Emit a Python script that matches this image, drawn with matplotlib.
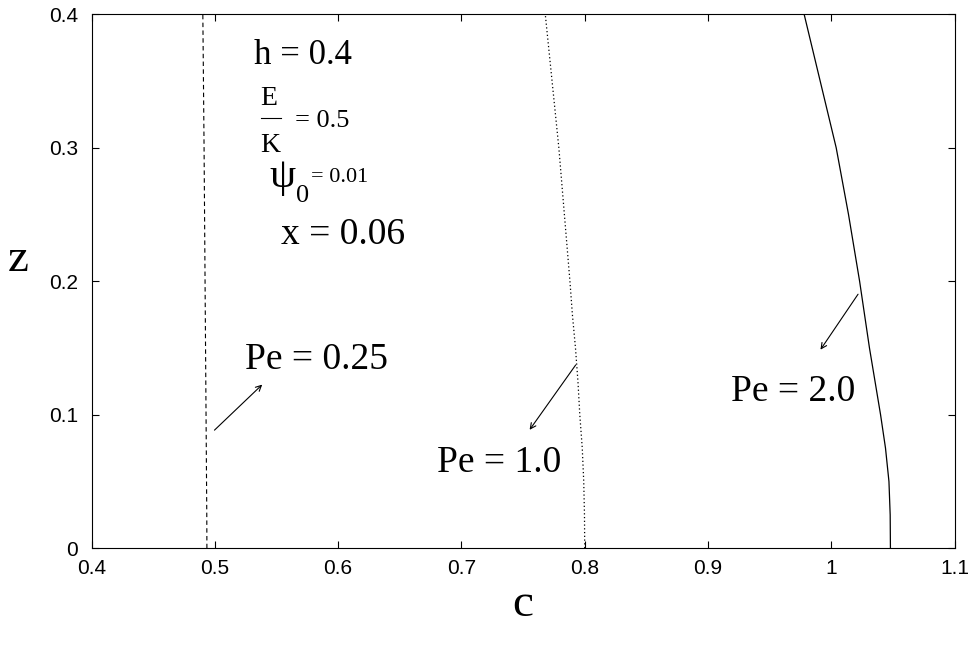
import matplotlib
matplotlib.use("Agg")
import matplotlib.pyplot as plt

z_pts = [0.0, 0.025, 0.05, 0.075, 0.1, 0.125, 0.15, 0.175, 0.2, 0.25, 0.3, 0.35, 0.4]
c_pe025 = [0.4935, 0.4934, 0.4932, 0.493, 0.4928, 0.4926, 0.4924, 0.4922, 0.492,
           0.4916, 0.4912, 0.4907, 0.4902]
c_pe10 = [0.800, 0.7998, 0.7992, 0.798, 0.796, 0.7945, 0.7925, 0.790, 0.788,
          0.7835, 0.779, 0.7735, 0.768]
c_pe20 = [1.048, 1.0478, 1.0468, 1.044, 1.040, 1.0355, 1.031, 1.027, 1.023,
          1.014, 1.004, 0.991, 0.978]

fig = plt.figure(figsize=(9.75, 6.48), dpi=100)
ax = fig.add_axes([0.094, 0.154, 0.885, 0.824])

ax.plot(c_pe025, z_pts, color="black", linestyle=(0, (4, 3)), linewidth=0.8)
ax.plot(c_pe10, z_pts, color="black", linestyle=(0, (1, 2)), linewidth=0.9)
ax.plot(c_pe20, z_pts, color="black", linestyle="-", linewidth=0.9)

ax.set_xlim(0.4, 1.1)
ax.set_ylim(0, 0.4)
ax.set_xticks([0.4, 0.5, 0.6, 0.7, 0.8, 0.9, 1.0, 1.1])
ax.set_xticklabels(["0.4", "0.5", "0.6", "0.7", "0.8", "0.9", "1", "1.1"])
ax.set_yticks([0, 0.1, 0.2, 0.3, 0.4])
ax.set_yticklabels(["0", "0.1", "0.2", "0.3", "0.4"])
ax.tick_params(direction="in", top=True, right=True, labelsize=15, length=5)
ax.tick_params(axis="x", pad=8)
ax.tick_params(axis="y", pad=10)
for lab in ax.get_xticklabels() + ax.get_yticklabels():
    lab.set_family("Liberation Sans")

serif = "Liberation Serif"
ax.set_xlabel("c", fontsize=34, family=serif, labelpad=4)
ax.set_ylabel("z", fontsize=34, family=serif, rotation=0, labelpad=22)

ax.text(0.532, 0.369, "h = 0.4", fontsize=25, family=serif, va="center")
ax.text(0.537, 0.337, "E", fontsize=20, family=serif, va="center")
ax.plot([0.537, 0.554], [0.322, 0.322], color="black", linewidth=0.8)
ax.text(0.537, 0.302, "K", fontsize=20, family=serif, va="center")
ax.text(0.565, 0.320, "= 0.5", fontsize=19, family=serif, va="center")
ax.text(0.544, 0.278, "ψ", fontsize=30, family=serif, va="center")
ax.text(0.566, 0.264, "0", fontsize=19, family=serif, va="center")
ax.text(0.578, 0.278, "= 0.01", fontsize=16, family=serif, va="center")
ax.text(0.554, 0.235, "x = 0.06", fontsize=27, family=serif, va="center")

ax.text(0.524, 0.141, "Pe = 0.25", fontsize=27, family=serif, va="center")
ax.text(0.68, 0.064, "Pe = 1.0", fontsize=27, family=serif, va="center")
ax.text(0.919, 0.117, "Pe = 2.0", fontsize=27, family=serif, va="center")

arrows = [((0.498, 0.087), (0.540, 0.124)),
          ((0.794, 0.139), (0.754, 0.087)),
          ((1.023, 0.192), (0.990, 0.147))]
for start, end in arrows:
    ax.annotate("", xy=end, xytext=start,
                arrowprops=dict(arrowstyle="->", color="black", lw=0.8))

fig.savefig("out.png", dpi=100)
